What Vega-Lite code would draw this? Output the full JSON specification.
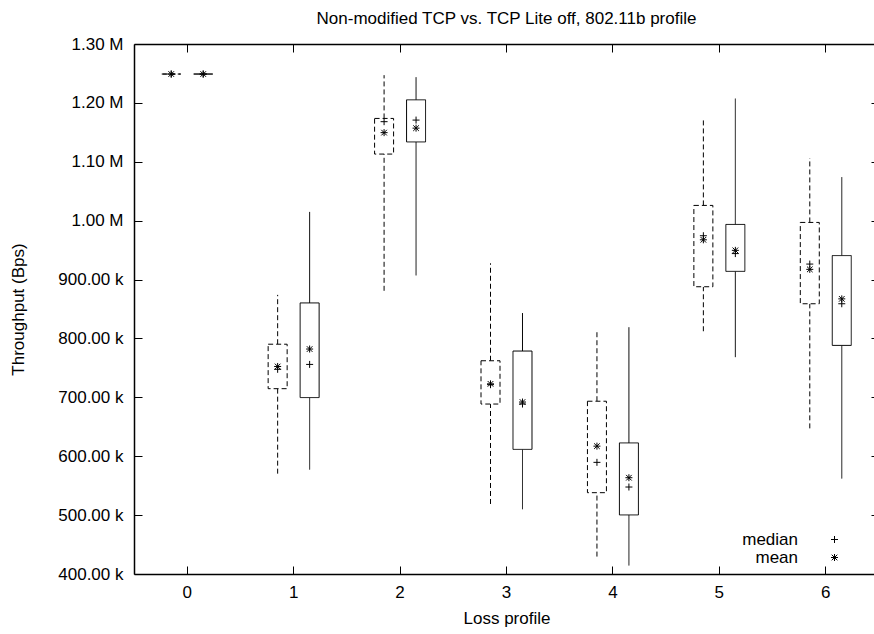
{
  "$schema": "https://vega.github.io/schema/vega-lite/v6.json",
  "width": 745,
  "height": 530,
  "autosize": {"type": "none"},
  "padding": {"left": 134, "top": 44, "right": -5, "bottom": 60},
  "background": "white",
  "config": {
    "view": {"stroke": null},
    "font": "Liberation Sans",
    "axis": {
      "grid": false,
      "labelColor": "black",
      "labelFontSize": 17,
      "titleFontSize": 17,
      "titleFontWeight": "normal",
      "titleColor": "black"
    }
  },
  "title": {
    "text": "Non-modified TCP vs. TCP Lite off, 802.11b profile",
    "fontSize": 17,
    "fontWeight": "normal",
    "color": "black",
    "anchor": "middle",
    "offset": 5
  },
  "data": {
    "values": [
      {"profile": 0, "tcp": "Non-modified TCP", "min": 1249000, "q1": 1249000, "q3": 1249000, "max": 1249000, "median": 1249000, "mean": 1249000},
      {"profile": 0, "tcp": "TCP Lite off", "min": 1249000, "q1": 1249000, "q3": 1249000, "max": 1249000, "median": 1249000, "mean": 1249000},
      {"profile": 1, "tcp": "Non-modified TCP", "min": 570400, "q1": 714700, "q3": 790200, "max": 874000, "median": 747600, "mean": 752400},
      {"profile": 1, "tcp": "TCP Lite off", "min": 577300, "q1": 699600, "q3": 860300, "max": 1014900, "median": 755900, "mean": 782000},
      {"profile": 2, "tcp": "Non-modified TCP", "min": 880900, "q1": 1113100, "q3": 1173600, "max": 1247100, "median": 1168100, "mean": 1149500},
      {"profile": 2, "tcp": "TCP Lite off", "min": 907000, "q1": 1133700, "q3": 1205200, "max": 1243700, "median": 1170800, "mean": 1157100},
      {"profile": 3, "tcp": "Non-modified TCP", "min": 518900, "q1": 688600, "q3": 762100, "max": 927600, "median": 721500, "mean": 722900},
      {"profile": 3, "tcp": "TCP Lite off", "min": 509900, "q1": 611600, "q3": 778600, "max": 843100, "median": 688600, "mean": 692000},
      {"profile": 4, "tcp": "Non-modified TCP", "min": 429600, "q1": 538100, "q3": 693400, "max": 812200, "median": 589600, "mean": 617100},
      {"profile": 4, "tcp": "TCP Lite off", "min": 414400, "q1": 500300, "q3": 622600, "max": 819100, "median": 547700, "mean": 563500},
      {"profile": 5, "tcp": "Non-modified TCP", "min": 812200, "q1": 887800, "q3": 1025900, "max": 1170800, "median": 974400, "mean": 967500},
      {"profile": 5, "tcp": "TCP Lite off", "min": 768200, "q1": 913900, "q3": 993600, "max": 1207300, "median": 944100, "mean": 949600},
      {"profile": 6, "tcp": "Non-modified TCP", "min": 647300, "q1": 858900, "q3": 997000, "max": 1106300, "median": 926300, "mean": 917300},
      {"profile": 6, "tcp": "TCP Lite off", "min": 562100, "q1": 788200, "q3": 940700, "max": 1074000, "median": 858900, "mean": 867200}
    ]
  },
  "resolve": {"axis": {"x": "independent", "y": "independent"}},
  "layer": [
    {
      "mark": {"type": "rule", "color": "black", "strokeWidth": 1},
      "encoding": {
        "x": {
          "field": "profile",
          "type": "ordinal",
          "scale": {"domain": [0, 1, 2, 3, 4, 5, 6], "paddingInner": 0, "paddingOuter": 0},
          "axis": {"orient": "bottom", "title": "Loss profile", "labelAngle": 0, "labelPadding": 10, "titlePadding": 10, "domain": true, "domainColor": "black", "domainWidth": 1.5, "ticks": false}
        },
        "xOffset": {
          "field": "tcp",
          "type": "nominal",
          "scale": {"domain": ["Non-modified TCP", "TCP Lite off"], "paddingInner": 0.406, "paddingOuter": 0.867}
        },
        "y": {
          "field": "min",
          "type": "quantitative",
          "scale": {"domain": [400000, 1300000], "nice": false, "zero": false},
          "axis": {
            "orient": "left",
            "title": "Throughput (Bps)",
            "values": [400000, 500000, 600000, 700000, 800000, 900000, 1000000, 1100000, 1200000, 1300000],
            "labelExpr": "datum.value >= 1000000 ? format(datum.value / 1000000, '.2f') + ' M' : format(datum.value / 1000, '.2f') + ' k'",
            "labelPadding": 11,
            "titlePadding": 30,
            "domain": true, "domainColor": "black", "domainWidth": 1.5, "ticks": false
          }
        },
        "y2": {"field": "q1"},
        "strokeDash": {
          "field": "tcp",
          "type": "nominal",
          "scale": {"domain": ["Non-modified TCP", "TCP Lite off"], "range": [[5, 3], [1, 0]]},
          "legend": null
        }
      }
    },
    {
      "mark": {"type": "rule", "color": "black", "strokeWidth": 1},
      "encoding": {
        "x": {
          "field": "profile",
          "type": "ordinal",
          "axis": {"orient": "top", "title": null, "labelOpacity": 0, "domain": true, "domainColor": "black", "domainWidth": 1.5, "ticks": false}
        },
        "xOffset": {"field": "tcp", "type": "nominal"},
        "y": {
          "field": "q3",
          "type": "quantitative",
          "axis": {
            "orient": "left",
            "title": null,
            "labelOpacity": 0,
            "offset": -8,
            "values": [400000, 500000, 600000, 700000, 800000, 900000, 1000000, 1100000, 1200000, 1300000],
            "domain": true, "domainOpacity": 0, "ticks": true, "tickColor": "black", "tickSize": 8, "tickWidth": 1
          }
        },
        "y2": {"field": "max"},
        "strokeDash": {"field": "tcp", "type": "nominal", "legend": null}
      }
    },
    {
      "mark": {"type": "bar", "fill": "white", "stroke": "black", "strokeWidth": 1},
      "encoding": {
        "x": {
          "field": "profile",
          "type": "ordinal",
          "axis": {"orient": "bottom", "title": null, "labelOpacity": 0, "offset": -8, "domain": true, "domainOpacity": 0, "ticks": true, "tickColor": "black", "tickSize": 8, "tickWidth": 1}
        },
        "xOffset": {"field": "tcp", "type": "nominal"},
        "y": {
          "field": "q1",
          "type": "quantitative",
          "axis": {
            "orient": "right",
            "title": null,
            "labelOpacity": 0,
            "offset": -8,
            "values": [400000, 500000, 600000, 700000, 800000, 900000, 1000000, 1100000, 1200000, 1300000],
            "domain": true, "domainOpacity": 0, "ticks": true, "tickColor": "black", "tickSize": 8, "tickWidth": 1
          }
        },
        "y2": {"field": "q3"},
        "strokeDash": {"field": "tcp", "type": "nominal", "legend": null}
      }
    },
    {
      "transform": [{"fold": ["median", "mean"], "as": ["stat", "value"]}],
      "mark": {"type": "point", "filled": false, "stroke": "black", "strokeWidth": 1, "size": 49, "opacity": 1},
      "encoding": {
        "x": {
          "field": "profile",
          "type": "ordinal",
          "axis": {"orient": "top", "title": null, "labelOpacity": 0, "offset": -8, "domain": true, "domainOpacity": 0, "ticks": true, "tickColor": "black", "tickSize": 8, "tickWidth": 1}
        },
        "xOffset": {"field": "tcp", "type": "nominal"},
        "y": {"field": "value", "type": "quantitative", "axis": null},
        "shape": {
          "field": "stat",
          "type": "nominal",
          "scale": {
            "domain": ["median", "mean"],
            "range": ["M-1,0L1,0M0,-1L0,1", "M-1,0L1,0M0,-1L0,1M-0.8,-0.8L0.8,0.8M-0.8,0.8L0.8,-0.8"]
          },
          "legend": {
            "orient": "none",
            "legendX": 692,
            "legendY": 487,
            "title": null,
            "labelFontSize": 17,
            "labelColor": "black",
            "labelAlign": "right",
            "labelOffset": -45,
            "labelLimit": 0,
            "symbolSize": 49,
            "symbolStrokeColor": "black",
            "symbolStrokeWidth": 1,
            "padding": 0,
            "rowPadding": 0
          }
        }
      }
    }
  ]
}
